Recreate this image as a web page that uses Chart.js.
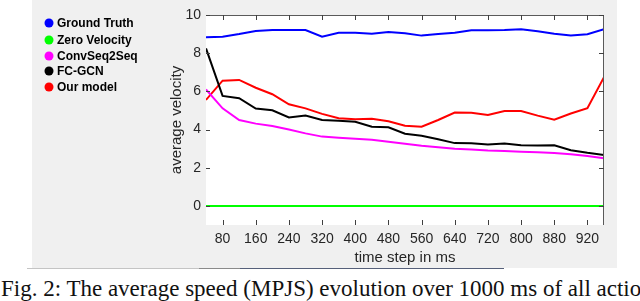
<!DOCTYPE html>
<html>
<head>
<meta charset="utf-8">
<script src="https://cdn.jsdelivr.net/npm/chart.js@4"></script>
<style>
    html, body { margin: 0; padding: 0; background: #ffffff; width: 640px; height: 301px; overflow: hidden; }
    #wrap { position: relative; width: 640px; height: 301px; }
    #velocityChart { position: absolute; left: 0; top: 0; }
    #caption {
        position: absolute; left: 1px; top: 277px; width: 660px;
        font-family: "Liberation Serif", "DejaVu Serif", serif; font-size: 23px;
        color: #111; white-space: nowrap; overflow: hidden; line-height: 24px;
    }
</style>
</head>
<body>
<div id="wrap">
    <canvas id="velocityChart" width="640" height="270"></canvas>
    <div id="caption">Fig. 2: The average speed (MPJS) evolution over 1000 ms of all actions</div>
</div>
<script>
// Time steps (index of each prediction frame) and the axis labels shown
const steps = [0, 1, 2, 3, 4, 5, 6, 7, 8, 9, 10, 11, 12, 13, 14, 15, 16, 17, 18, 19, 20, 21, 22, 23, 24];
const xTickIdx = [1, 3, 5, 7, 9, 11, 13, 15, 17, 19, 21, 23];
const xTickLabels = ['80', '160', '240', '320', '400', '480', '560', '640', '720', '800', '880', '920'];
const yTicks = [0, 2, 4, 6, 8, 10];

// Series values (average velocity)
const groundTruth = [8.83, 8.86, 9.0, 9.16, 9.21, 9.21, 9.21, 8.86, 9.07, 9.07, 9.02, 9.11, 9.04, 8.92, 9.0, 9.07, 9.2, 9.2, 9.21, 9.25, 9.15, 9.02, 8.92, 8.99, 9.25];
const zeroVelocity = [0, 0, 0, 0, 0, 0, 0, 0, 0, 0, 0, 0, 0, 0, 0, 0, 0, 0, 0, 0, 0, 0, 0, 0, 0];
const convSeq2Seq = [6.1, 5.11, 4.5, 4.31, 4.19, 4.0, 3.8, 3.63, 3.57, 3.52, 3.47, 3.36, 3.25, 3.15, 3.07, 3.0, 2.95, 2.9, 2.88, 2.84, 2.81, 2.77, 2.7, 2.61, 2.5];
const fcGcn = [8.25, 5.76, 5.64, 5.1, 5.01, 4.63, 4.73, 4.5, 4.46, 4.41, 4.15, 4.12, 3.78, 3.67, 3.49, 3.29, 3.28, 3.22, 3.27, 3.18, 3.16, 3.18, 2.92, 2.78, 2.66];
const ourModel = [5.55, 6.56, 6.6, 6.19, 5.85, 5.32, 5.11, 4.82, 4.59, 4.54, 4.57, 4.43, 4.2, 4.15, 4.5, 4.89, 4.88, 4.76, 4.97, 4.97, 4.73, 4.52, 4.84, 5.12, 6.74];

const series = [
    { label: 'Ground Truth', values: groundTruth, color: '#0000ff' },
    { label: 'Zero Velocity', values: zeroVelocity, color: '#00ff00' },
    { label: 'ConvSeq2Seq', values: convSeq2Seq, color: '#ff00ff' },
    { label: 'FC-GCN', values: fcGcn, color: '#000000' },
    { label: 'Our model', values: ourModel, color: '#ff0000' }
];

const axisFont = { family: '"Liberation Sans", Arial, sans-serif', size: 14 };
const axisColor = '#262626';

// Figure background, the MATLAB style box and the legend off to the left
const matlabFrame = {
    id: 'matlabFrame',
    beforeDraw(chart) {
        const { ctx, chartArea: a } = chart;
        ctx.save();
        ctx.fillStyle = '#ffffff';
        ctx.fillRect(0, 0, chart.width, chart.height);
        ctx.fillStyle = '#f0f0f0';
        ctx.fillRect(32, 0, 585, 268);
        ctx.fillStyle = '#ffffff';
        ctx.fillRect(a.left, a.top, a.right - a.left, a.bottom - a.top);
        // bottom edge of the figure panel
        ctx.fillStyle = '#c4c4c4';
        ctx.fillRect(27, 268, 172, 1);
        ctx.fillStyle = '#8a8a8a';
        ctx.fillRect(199, 268, 41, 1);
        ctx.fillStyle = '#56607a';
        ctx.fillRect(240, 268, 264, 1);
        ctx.restore();
    },
    afterDraw(chart) {
        const { ctx, chartArea: a, scales } = chart;
        ctx.save();
        // box top + right
        ctx.strokeStyle = '#5a5a5a';
        ctx.lineWidth = 1;
        ctx.beginPath();
        ctx.moveTo(a.left, a.top + 0.5);
        ctx.lineTo(a.right - 0.5, a.top + 0.5);
        ctx.lineTo(a.right - 0.5, a.bottom);
        ctx.stroke();
        // inward ticks
        ctx.strokeStyle = '#404040';
        ctx.beginPath();
        xTickIdx.forEach(v => {
            const x = Math.round(scales.x.getPixelForValue(v)) + 0.5;
            ctx.moveTo(x, a.bottom); ctx.lineTo(x, a.bottom - 5);
            ctx.moveTo(x, a.top); ctx.lineTo(x, a.top + 5);
        });
        yTicks.forEach(v => {
            const y = Math.round(scales.y.getPixelForValue(v)) + 0.5;
            ctx.moveTo(a.left, y); ctx.lineTo(a.left + 4, y);
            ctx.moveTo(a.right, y); ctx.lineTo(a.right - 5, y);
        });
        ctx.stroke();

        // legend
        const rowY = [23, 40, 56, 71, 87];
        ctx.font = 'bold 12px "Liberation Sans", Arial, sans-serif';
        ctx.textBaseline = 'middle';
        chart.data.datasets.forEach((ds, i) => {
            ctx.fillStyle = ds.borderColor;
            ctx.beginPath();
            ctx.arc(49, rowY[i], 4.5, 0, Math.PI * 2);
            ctx.fill();
            ctx.fillStyle = '#000000';
            ctx.fillText(ds.label, 57, rowY[i] + 0.5);
        });
        ctx.restore();
    }
};

const ctx = document.getElementById('velocityChart').getContext('2d');
new Chart(ctx, {
    type: 'line',
    data: {
        datasets: series.map(s => ({
            label: s.label,
            data: s.values.map((v, i) => ({ x: steps[i], y: v })),
            borderColor: s.color,
            backgroundColor: s.color,
            borderWidth: 2,
            pointRadius: 0,
            tension: 0,
            fill: false
        }))
    },
    options: {
        responsive: false,
        animation: false,
        devicePixelRatio: 1,
        layout: { padding: { left: 160, right: 36, top: 15, bottom: 0 } },
        plugins: { legend: { display: false }, tooltip: { enabled: false } },
        scales: {
            x: {
                type: 'linear', min: 0, max: 24,
                grid: { display: false, drawTicks: false },
                border: { display: false },
                afterBuildTicks: axis => { axis.ticks = xTickIdx.map(v => ({ value: v })); },
                ticks: {
                    autoSkip: false, maxRotation: 0, padding: 6,
                    font: axisFont, color: axisColor,
                    callback: v => xTickLabels[xTickIdx.indexOf(v)]
                },
                title: {
                    display: true, text: 'time step in ms', color: axisColor,
                    font: { family: axisFont.family, size: 15 },
                    padding: { top: 0, bottom: 3 }
                },
                afterFit: scale => { scale.height = 45; }
            },
            y: {
                min: -1, max: 10,
                grid: { display: false, drawTicks: false },
                border: { display: false },
                afterBuildTicks: axis => { axis.ticks = yTicks.map(v => ({ value: v })); },
                ticks: { padding: 5, font: axisFont, color: axisColor },
                title: {
                    display: true, text: 'average velocity', color: axisColor,
                    font: { family: axisFont.family, size: 15 },
                    padding: { top: 8, bottom: 0 }
                },
                afterFit: scale => { scale.width = 46; }
            }
        }
    },
    plugins: [matlabFrame]
});
</script>
</body>
</html>
